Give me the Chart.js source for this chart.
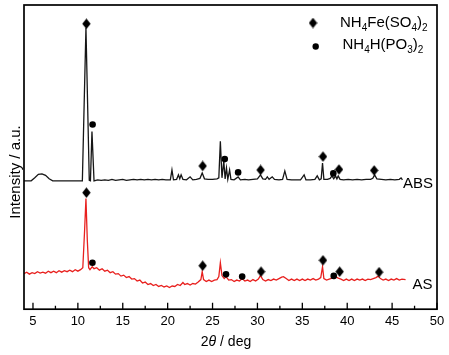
<!DOCTYPE html>
<html><head><meta charset="utf-8">
<script src="https://cdn.jsdelivr.net/npm/chart.js@4/dist/chart.umd.min.js"></script>
<style>html,body{margin:0;padding:0;background:#fff;overflow:hidden}</style>
</head><body>
<canvas id="c" width="449" height="355"></canvas>
<script>
// ---------- data (2θ in degrees, intensity in arbitrary units, ABS trace offset upward) ----------
const xTickValues = [5,10,15,20,25,30,35,40,45,50];
const xMinorTickValues = [7.5,12.5,17.5,22.5,27.5,32.5,37.5,42.5,47.5];

const absPattern = [
[4.0,130],[4.8,130],[5.2,133],[5.6,136.5],[6.0,137],[6.4,135.5],[6.8,132],[7.2,130],[7.6,130],[10.0,130],[10.5,130],
[10.9,285],[11.27,130.5],[11.4,130],[11.57,180],[11.8,130],[12.2,131],[12.6,130.5],[13.0,131],[13.4,130.5],[13.8,131.5],
[14.2,130.5],[14.6,131],[15.0,131.5],[15.4,130.5],[15.8,131],[16.2,131.5],[16.6,131],[17.0,131.5],[17.4,131],[17.8,131.5],
[18.2,131],[18.6,131.5],[19.0,131],[19.4,131.5],[19.8,131],[20.3,131],[20.48,141],[20.65,131],[21.0,131.5],[21.2,136],
[21.35,132],[21.5,136],[21.7,131.5],[22.1,131],[22.5,134],[22.8,131],[23.2,131.5],[23.6,132.5],[23.85,138],[24.1,132],
[24.5,131.5],[25.0,131.5],[25.5,132],[25.7,133],[25.87,170],[26.05,133],[26.25,150],[26.4,132],[26.55,143],[26.7,131.5],
[26.9,141],[27.05,131.5],[27.4,131],[27.85,134],[28.1,131],[28.6,131.5],[29.0,131],[29.5,131.5],[30.0,132],[30.34,136],
[30.6,132],[30.9,131.5],[31.1,134],[31.3,131.5],[31.65,134],[31.9,131.5],[32.4,131],[32.8,131.5],[33.05,140],[33.3,131.5],
[33.8,131],[34.3,131],[34.8,131],[35.2,136],[35.4,131],[35.9,131],[36.4,131.5],[36.66,135],[36.9,131],[37.1,132],
[37.25,148],[37.4,131.5],[37.8,131.5],[38.1,132.5],[38.3,135],[38.5,132],[38.7,135],[38.85,132],[39.0,135],[39.2,131.5],
[39.6,131],[40.1,131.5],[40.6,131],[41.1,131.5],[41.6,131],[42.1,131.5],[42.6,131.5],[42.85,132.5],[43.05,136],[43.3,132],
[43.8,131.5],[44.3,131],[44.8,131.5],[45.3,131],[45.8,131.5],[46.0,133],[46.15,131]
];

const asPattern = [
[4.0,36],[4.3,37.5],[4.6,35.5],[4.9,37],[5.2,36],[5.5,38],[5.8,36.5],[6.1,37.5],[6.4,36.5],[6.7,38.5],[7.0,37],[7.3,38.5],
[7.6,37],[7.9,39],[8.2,37.5],[8.5,39],[8.8,38],[9.1,39.5],[9.4,38],[9.7,40],[10.0,38.5],[10.3,40],[10.55,42],[10.75,80],
[10.9,112],[11.05,70],[11.2,42],[11.35,40],[11.6,43],[11.8,41],[12.1,42],[12.4,39.5],[12.7,41],[13.0,38.5],[13.3,39.5],
[13.6,37],[13.9,38],[14.2,35.5],[14.5,36],[14.8,33.5],[15.1,34.5],[15.4,32],[15.7,33],[16.0,30.5],[16.3,31],[16.6,28.5],
[16.9,29.5],[17.2,26.5],[17.5,27.5],[17.8,25],[18.1,26],[18.4,24],[18.7,25],[19.0,23],[19.3,24],[19.6,22.5],[19.9,23.5],
[20.2,22],[20.5,23.5],[20.8,23],[21.1,25],[21.4,24],[21.7,27],[21.9,25],[22.2,26],[22.5,24.5],[22.8,26],[23.1,25.5],
[23.4,27.5],[23.7,30],[23.85,38],[24.0,30],[24.3,28],[24.6,29.5],[24.9,28],[25.2,29.5],[25.5,30],[25.7,33],[25.87,47],
[26.05,34],[26.3,31],[26.5,33],[26.8,29.5],[27.1,30],[27.4,28],[27.7,29.5],[28.0,28.5],[28.3,31],[28.6,28.5],[28.9,29.5],
[29.2,28],[29.5,30],[29.8,28.5],[30.1,30.5],[30.34,34],[30.6,30],[30.9,28.5],[31.2,30],[31.5,29],[31.8,30.5],[32.1,29.5],
[32.4,31],[32.7,32.5],[32.9,33],[33.2,31],[33.5,29],[33.8,30.5],[34.1,29],[34.4,30.5],[34.7,29],[35.0,30.5],[35.3,29],
[35.6,30.5],[35.9,29.5],[36.2,31],[36.5,29.5],[36.8,30.5],[37.05,32],[37.25,43],[37.4,31],[37.7,29.5],[38.0,30.5],
[38.3,31.5],[38.55,31],[38.7,33],[39.0,31.5],[39.3,30.5],[39.6,29],[39.9,30.5],[40.2,29],[40.5,30.5],[40.8,29],[41.1,30.5],
[41.4,29.5],[41.7,30.5],[42.0,29],[42.3,30.5],[42.6,30],[42.9,31],[43.2,32],[43.45,33.5],[43.7,31],[44.0,29.5],[44.3,30.5],
[44.6,29],[44.9,30.5],[45.2,29.5],[45.5,31],[45.8,29.5],[46.1,30.5],[46.5,30]
];

// phase markers: diamonds = NH4Fe(SO4)2, circles = NH4H(PO3)2
const sulfateMarksABS = [[10.95,289],[23.9,145],[30.35,141],[37.3,154.5],[39.08,141.5],[43.0,140.5]];
const phosphateMarksABS = [[11.64,187],[26.36,152],[27.85,138.5],[38.45,137.5]];
const sulfateMarksAS = [[10.95,118],[23.9,44],[30.4,38],[37.3,49.5],[39.16,38],[43.55,37.5]];
const phosphateMarksAS = [[11.62,47],[26.5,35.3],[28.3,33],[38.5,33.7]];

const legendLabels = ['NH4Fe(SO4)2','NH4H(PO3)2'];
const seriesLabels = ['ABS','AS'];
const xTitleParts = ['2','θ',' / deg'];
const yTitle = 'Intensity / a.u.';

// ---------- drawing ----------
const FONT = "Arial, 'Liberation Sans', sans-serif";
const pts = arr => arr.map(([x,y]) => ({x, y}));

const diamondImg = (() => {
  const c = document.createElement('canvas'); c.width = 9; c.height = 11;
  const g = c.getContext('2d'); g.fillStyle = '#000';
  g.beginPath(); g.moveTo(4.5,0.3); g.lineTo(8.7,5.5); g.lineTo(4.5,10.7); g.lineTo(0.3,5.5); g.closePath(); g.fill();
  return c;
})();

function drawFormula(ctx, str, x, y, size) {
  let cx = x;
  for (const ch of str) {
    const sub = /\d/.test(ch);
    ctx.font = (sub ? Math.round(size*0.66) : size) + 'px ' + FONT;
    ctx.fillText(ch, cx, y + (sub ? size*0.28 : 0));
    cx += ctx.measureText(ch).width;
  }
}

const decor = {
  id: 'decor',
  afterDraw(chart) {
    const {ctx, chartArea: a, scales: {x}} = chart;
    ctx.save();
    ctx.strokeStyle = '#000'; ctx.lineWidth = 1.7;
    ctx.strokeRect(a.left, a.top, a.right - a.left, a.bottom - a.top);
    ctx.lineWidth = 1.3;
    ctx.beginPath();
    xTickValues.forEach(v => { const p = x.getPixelForValue(v); ctx.moveTo(p, a.bottom); ctx.lineTo(p, a.bottom - 6.5); });
    xMinorTickValues.forEach(v => { const p = x.getPixelForValue(v); ctx.moveTo(p, a.bottom); ctx.lineTo(p, a.bottom - 3.5); });
    ctx.stroke();

    ctx.fillStyle = '#000';
    ctx.textBaseline = 'alphabetic';
    // x title with italic theta
    ctx.font = '14px ' + FONT;
    const w0 = ctx.measureText(xTitleParts[0]).width;
    ctx.font = 'italic 14px ' + FONT;
    const w1 = ctx.measureText(xTitleParts[1]).width;
    ctx.font = '14px ' + FONT;
    const w2 = ctx.measureText(xTitleParts[2]).width;
    let tx = 226 - (w0 + w1 + w2) / 2;
    ctx.textAlign = 'left';
    ctx.fillText(xTitleParts[0], tx, 346); tx += w0;
    ctx.font = 'italic 14px ' + FONT; ctx.fillText(xTitleParts[1], tx, 346); tx += w1;
    ctx.font = '14px ' + FONT; ctx.fillText(xTitleParts[2], tx, 346);

    // y title
    ctx.save();
    ctx.translate(20, 172); ctx.rotate(-Math.PI/2);
    ctx.textAlign = 'center'; ctx.font = '15px ' + FONT;
    ctx.fillText(yTitle, 0, 0);
    ctx.restore();

    // series labels
    ctx.font = '15px ' + FONT; ctx.textAlign = 'left';
    ctx.fillText(seriesLabels[0], 403, 187.5);
    ctx.fillText(seriesLabels[1], 412.5, 289);

    // legend
    ctx.drawImage(diamondImg, 313 - 4.5, 23 - 5.5);
    ctx.beginPath(); ctx.arc(315.7, 46.5, 3.2, 0, Math.PI*2); ctx.fill();
    drawFormula(ctx, legendLabels[0], 340, 27, 15);
    drawFormula(ctx, legendLabels[1], 342.5, 49, 15);
    ctx.restore();
  }
};

new Chart(document.getElementById('c'), {
  type: 'scatter',
  data: {
    datasets: [
      {label:'sABS', data: pts(sulfateMarksABS), pointStyle: diamondImg, pointRadius: 5, backgroundColor:'#000', borderWidth:0},
      {label:'pABS', data: pts(phosphateMarksABS), pointStyle: 'circle', pointRadius: 3.3, backgroundColor:'#000', borderWidth:0},
      {label:'sAS', data: pts(sulfateMarksAS), pointStyle: diamondImg, pointRadius: 5, backgroundColor:'#000', borderWidth:0},
      {label:'pAS', data: pts(phosphateMarksAS), pointStyle: 'circle', pointRadius: 3.3, backgroundColor:'#000', borderWidth:0},
      {label:seriesLabels[0], data: pts(absPattern), showLine: true, borderColor:'#161616', borderWidth: 1.3, pointRadius: 0, tension: 0},
      {label:seriesLabels[1], data: pts(asPattern), showLine: true, borderColor:'#e8201e', borderWidth: 1.3, pointRadius: 0, tension: 0}
    ]
  },
  options: {
    responsive: false, animation: false, devicePixelRatio: 1,
    layout: {padding: {left: 24, top: 5, right: 12, bottom: 22.2}},
    plugins: {legend: {display: false}, tooltip: {enabled: false}},
    scales: {
      x: {
        type: 'linear', min: 4, max: 50,
        afterBuildTicks: s => { s.ticks = xTickValues.map(v => ({value: v})); },
        ticks: {font: {family: FONT, size: 13}, color: '#000', padding: 4, maxRotation: 0, autoSkip: false},
        grid: {display: false, drawTicks: false},
        border: {display: false}
      },
      y: {type: 'linear', min: 0, max: 308, display: false}
    }
  },
  plugins: [decor]
});
</script>
</body></html>
